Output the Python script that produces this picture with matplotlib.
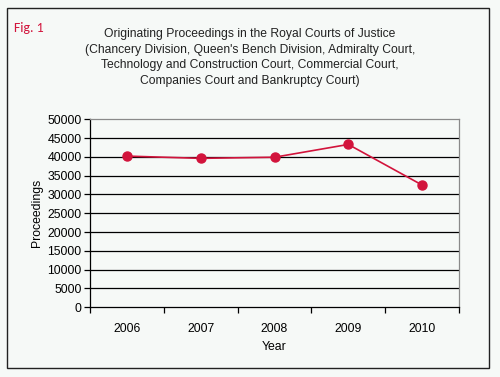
import matplotlib
matplotlib.use("Agg")
import matplotlib.pyplot as plt
from matplotlib.patches import Rectangle
from matplotlib.ticker import FixedLocator, NullFormatter

years = ["2006", "2007", "2008", "2009", "2010"]
proceedings = [40200, 39600, 39900, 43300, 32500]
y_ticks = [0, 5000, 10000, 15000, 20000, 25000, 30000, 35000, 40000, 45000, 50000]

title = ("Originating Proceedings in the Royal Courts of Justice\n"
         "(Chancery Division, Queen's Bench Division, Admiralty Court,\n"
         "Technology and Construction Court, Commercial Court,\n"
         "Companies Court and Bankruptcy Court)")

plt.rcParams["font.family"] = ["Liberation Sans", "DejaVu Sans"]
bg = "#f6f9f7"
red = "#d2143c"

fig = plt.figure(figsize=(5, 3.77), dpi=100, facecolor=bg)
fig.patches.append(Rectangle((0.014, 0.024), 0.964, 0.955, transform=fig.transFigure,
                             fill=False, edgecolor="#222222", linewidth=1.0))

ax = fig.add_axes([0.18, 0.185, 0.738, 0.4987])
ax.set_facecolor(bg)

x = list(range(len(years)))
ax.plot(x, proceedings, color=red, linewidth=1.2, marker="o", markersize=6.5,
        markeredgecolor=red, zorder=3)

ax.set_xlim(-0.5, len(years) - 0.5)
ax.set_ylim(0, 50000)
ax.set_yticks(y_ticks)
ax.set_yticklabels([str(v) for v in y_ticks], fontsize=8.8)
for v in y_ticks[1:-1]:
    ax.axhline(v, color="black", linewidth=0.9, zorder=1)

ax.set_xticks(x)
ax.set_xticklabels(years, fontsize=8.8)
ax.tick_params(axis="x", which="major", length=0, pad=11)
ax.xaxis.set_minor_locator(FixedLocator([i - 0.5 for i in range(len(years) + 1)]))
ax.xaxis.set_minor_formatter(NullFormatter())
ax.tick_params(axis="x", which="minor", length=4, width=0.9, direction="out")
ax.tick_params(axis="y", length=4, width=0.9, pad=2)

for side in ["left", "bottom"]:
    ax.spines[side].set_color("black")
    ax.spines[side].set_linewidth(0.9)
for side in ["top", "right"]:
    ax.spines[side].set_color("#8a8a8a")
    ax.spines[side].set_linewidth(0.9)

ax.set_xlabel("Year", fontsize=8.8, labelpad=5)
ax.set_ylabel("Proceedings", fontsize=8.8, labelpad=3)

fig.text(0.5, 0.925, title, ha="center", va="top", fontsize=8.7, linespacing=1.4,
         color="#222222")
fig.text(0.028, 0.925, "Fig. 1", ha="left", va="center", fontsize=10, color=red,
         family=["Carlito", "Liberation Sans", "DejaVu Sans"])

fig.savefig("out.png", dpi=100, facecolor=bg)
